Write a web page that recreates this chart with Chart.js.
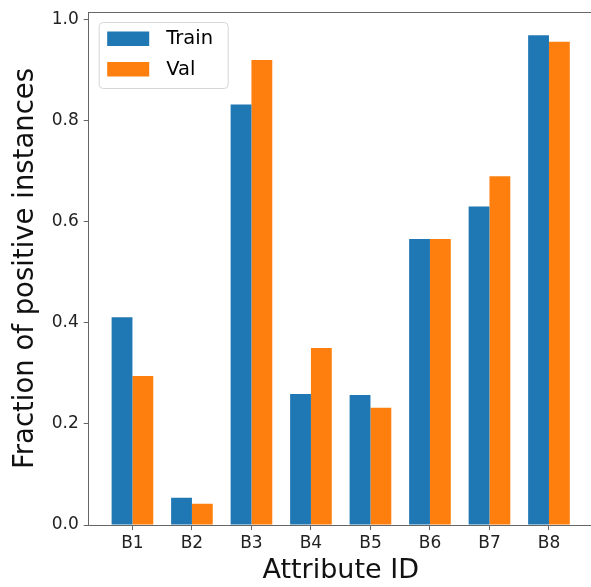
<!DOCTYPE html>
<html>
<head>
<meta charset="utf-8">
<script src="https://cdn.jsdelivr.net/npm/chart.js@4"></script>
<style>
  html, body { margin: 0; padding: 0; background: #fff; overflow: hidden; }
  #wrap { width: 591px; height: 587px; overflow: hidden; }
  #box { width: 600px; height: 587px; }
</style>
</head>
<body>
<div id="wrap"><div id="box"><canvas id="myChart"></canvas></div></div>
<script>
const categories = ['B1', 'B2', 'B3', 'B4', 'B5', 'B6', 'B7', 'B8']
const train = [0.411, 0.054, 0.832, 0.259, 0.257, 0.566, 0.630, 0.969]
const val = [0.295, 0.042, 0.920, 0.350, 0.232, 0.566, 0.690, 0.956]
const yTicks = [0, 0.2, 0.4, 0.6, 0.8, 1.0]

const font = 'DejaVu Sans'
const spine = '#666'

// matplotlib-like legend in the upper left corner + top/right spines
const boxLegend = {
    id: 'boxLegend',
    afterDraw(chart) {
        const ctx = chart.ctx
        const a = chart.chartArea
        ctx.save()
        ctx.strokeStyle = spine
        ctx.lineWidth = 1
        ctx.beginPath()
        ctx.moveTo(a.left, a.top + 0.5)
        ctx.lineTo(a.right, a.top + 0.5)
        ctx.lineTo(a.right, a.bottom)
        ctx.stroke()

        const x = a.left + 10.5, y = a.top + 10.5, w = 129, h = 66
        ctx.beginPath()
        ctx.roundRect(x, y, w, h, 4)
        ctx.fillStyle = 'rgba(255,255,255,0.8)'
        ctx.fill()
        ctx.strokeStyle = '#d6d6d6'
        ctx.stroke()
        ctx.font = '19.5px ' + font
        ctx.textBaseline = 'middle'
        chart.data.datasets.forEach((ds, i) => {
            const ry = y + 9 + i * 30.5
            ctx.fillStyle = ds.backgroundColor
            ctx.fillRect(x + 8, ry, 42, 14.5)
            ctx.fillStyle = '#000'
            ctx.fillText(ds.label, x + 67, ry + 7.5)
        })
        ctx.restore()
    }
}

new Chart(document.getElementById('myChart'), {
    type: 'bar',
    data: {
        datasets: [{
            label: 'Train',
            data: train.map((v, i) => ({ x: i, y: v })),
            backgroundColor: '#1f77b4',
            borderWidth: 0
        }, {
            label: 'Val',
            data: val.map((v, i) => ({ x: i, y: v })),
            backgroundColor: '#ff7f0e',
            borderWidth: 0
        }]
    },
    options: {
        responsive: true,
        maintainAspectRatio: false,
        animation: false,
        categoryPercentage: 0.7,
        barPercentage: 1.0,
        layout: { padding: { top: 12, right: 7.3, left: 0, bottom: 0 } },
        plugins: {
            legend: { display: false },
            tooltip: { enabled: false }
        },
        scales: {
            x: {
                type: 'linear',
                min: -0.735,
                max: 7.735,
                offset: false,
                afterBuildTicks: scale => { scale.ticks = categories.map((c, i) => ({ value: i })) },
                afterFit: scale => {
                    scale.height = 62
                    scale.paddingLeft = 0
                    scale.paddingRight = 0
                },
                border: { color: spine, width: 1 },
                grid: { offset: false, drawOnChartArea: false, tickLength: 5, color: spine },
                ticks: {
                    autoSkip: false,
                    maxRotation: 0,
                    padding: 3,
                    color: '#222',
                    font: { family: font, size: 17 },
                    callback: v => categories[v]
                },
                title: {
                    display: true,
                    text: 'Attribute ID',
                    color: '#111',
                    font: { family: font, size: 27 },
                    padding: { top: 4, bottom: 0 }
                }
            },
            y: {
                min: 0,
                max: 1.015,
                afterBuildTicks: scale => { scale.ticks = yTicks.map(v => ({ value: v })) },
                afterFit: scale => {
                    scale.width = 88.7
                    scale.paddingTop = 0
                    scale.paddingBottom = 0
                },
                border: { color: spine, width: 1 },
                grid: { drawOnChartArea: false, tickLength: 5, color: spine },
                ticks: {
                    padding: 5,
                    color: '#222',
                    font: { family: font, size: 17 },
                    callback: v => v.toFixed(1)
                },
                title: {
                    display: true,
                    text: 'Fraction of positive instances',
                    color: '#111',
                    font: { family: font, size: 27.5 },
                    padding: { top: 9, bottom: 4 }
                }
            }
        }
    },
    plugins: [boxLegend]
})
</script>
</body>
</html>
